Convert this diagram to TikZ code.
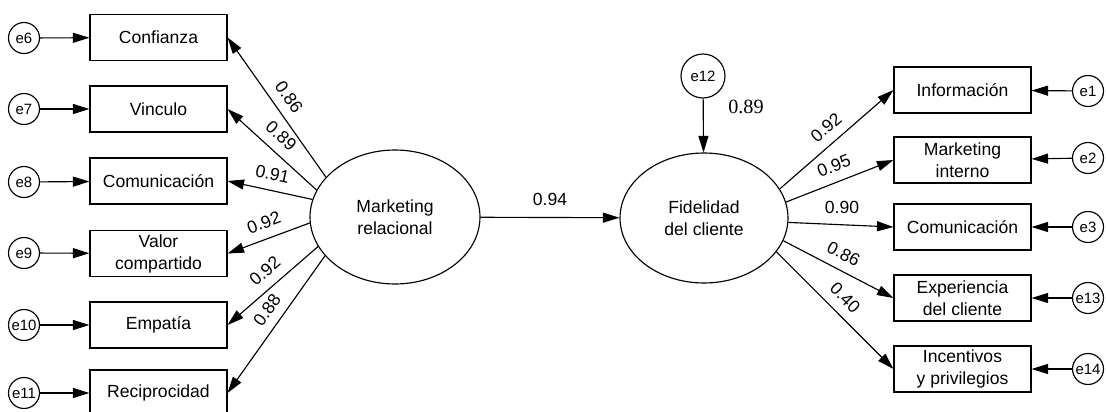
\documentclass[tikz,border=0pt]{standalone}
\usepackage{fontspec}
\setmainfont{Liberation Sans}
\newfontfamily\numserif{Liberation Serif}
\usepackage{tikz}
\usetikzlibrary{arrows.meta, positioning, shapes.geometric}

\begin{document}
\begin{tikzpicture}[
      x=0.02cm, y=-0.02cm, line width=0.65pt,
      every node/.style={font=\fontsize{10}{12.5}\selectfont},
      indic/.style={draw, rectangle, minimum width=2.74cm, minimum height=0.92cm, align=center, inner sep=1pt},
      latent/.style={draw, ellipse, minimum width=3.4cm, minimum height=2.68cm, align=center, inner sep=0pt},
      err/.style={draw, circle, minimum size=0.62cm, inner sep=0pt, font=\fontsize{8.5}{10}\selectfont},
      arr/.style={-{Triangle[length=3.3mm, width=2mm]}},
      coef/.style={sloped, above=2pt}
    ]
      \useasboundingbox (0,0) rectangle (1106,412);

      % latent variables
      \node[latent] (mr) at (395,217) {Marketing\\relacional};
      \node[latent, minimum width=3.36cm, minimum height=2.6cm] (fc) at (704,218) {Fidelidad\\del cliente};
      \node[err, minimum size=0.88cm] (e12) at (703,76) {e12};

      % left indicators
      \node[indic] (conf) at (158.5,37.5) {Confianza};
      \node[indic] (vinc) at (158.5,109) {Vinculo};
      \node[indic] (comL) at (158.5,181) {Comunicación};
      \node[indic] (valor) at (158.5,253.5) {Valor\\compartido};
      \node[indic] (empat) at (158.5,325) {Empatía};
      \node[indic] (recip) at (158.5,393) {Reciprocidad};

      \node[err] (e6) at (24,38) {e6};
      \node[err] (e7) at (24,109) {e7};
      \node[err] (e8) at (24,182) {e8};
      \node[err] (e9) at (24,253) {e9};
      \node[err] (e10) at (24,325) {e10};
      \node[err] (e11) at (24,393) {e11};

      % right indicators
      \node[indic] (info) at (962.5,90) {Información};
      \node[indic] (mkint) at (962.5,160) {Marketing\\interno};
      \node[indic] (comR) at (962.5,227) {Comunicación};
      \node[indic] (exper) at (962.5,298) {Experiencia\\del cliente};
      \node[indic] (incent) at (962.5,369) {Incentivos\\y privilegios};

      \node[err] (e1) at (1088,91) {e1};
      \node[err] (e2) at (1088,158) {e2};
      \node[err] (e3) at (1088,227) {e3};
      \node[err] (e13) at (1088,298) {e13};
      \node[err] (e14) at (1088,369) {e14};

      % errors
      \draw[arr] (e6) -- (conf);
      \draw[arr] (e7) -- (vinc);
      \draw[arr] (e8) -- (comL);
      \draw[arr] (e9) -- (valor);
      \draw[arr] (e10) -- (empat);
      \draw[arr] (e11) -- (recip);
      \draw[arr] (e1) -- (info);
      \draw[arr] (e2) -- (mkint);
      \draw[arr] (e3) -- (comR);
      \draw[arr] (e13) -- (exper);
      \draw[arr] (e14) -- (incent);
      \draw[arr] (e12) -- (fc);
      \node[font=\numserif\fontsize{11.5}{13}\selectfont] (r2) at (746,107) {0.89};

      % loadings
      \draw[arr] (mr.150) -- node[coef, pos=0.51] {0.86} (conf.east);
      \draw[arr] (mr.161) -- node[coef, pos=0.52] {0.89} (vinc.east);
      \draw[arr] (mr.168) -- node[coef, pos=0.51] {0.91} (comL.east);
      \draw[arr] (mr.184) -- node[coef, pos=0.49] {0.92} (valor.east);
      \draw[arr] (mr.201) -- node[coef, pos=0.47] {0.92} (empat.east);
      \draw[arr] (mr.209) -- node[coef, pos=0.46] {0.88} (recip.east);

      \draw[arr] (mr) -- node[above=3pt] {0.94} (fc);

      \draw[arr] (fc.21.5) -- node[coef, pos=0.5] {0.92} (info.west);
      \draw[arr] (fc.11) -- node[coef, pos=0.5] {0.95} (mkint.west);
      \draw[arr] (fc.-3) -- node[above=2.5pt, pos=0.51] {0.90} (comR.west);
      \draw[arr] (fc.-16.5) -- node[coef, pos=0.48] {0.86} (exper.west);
      \draw[arr] (fc.-25) -- node[coef, pos=0.49] {0.40} (incent.west);
    \end{tikzpicture}
\end{document}
